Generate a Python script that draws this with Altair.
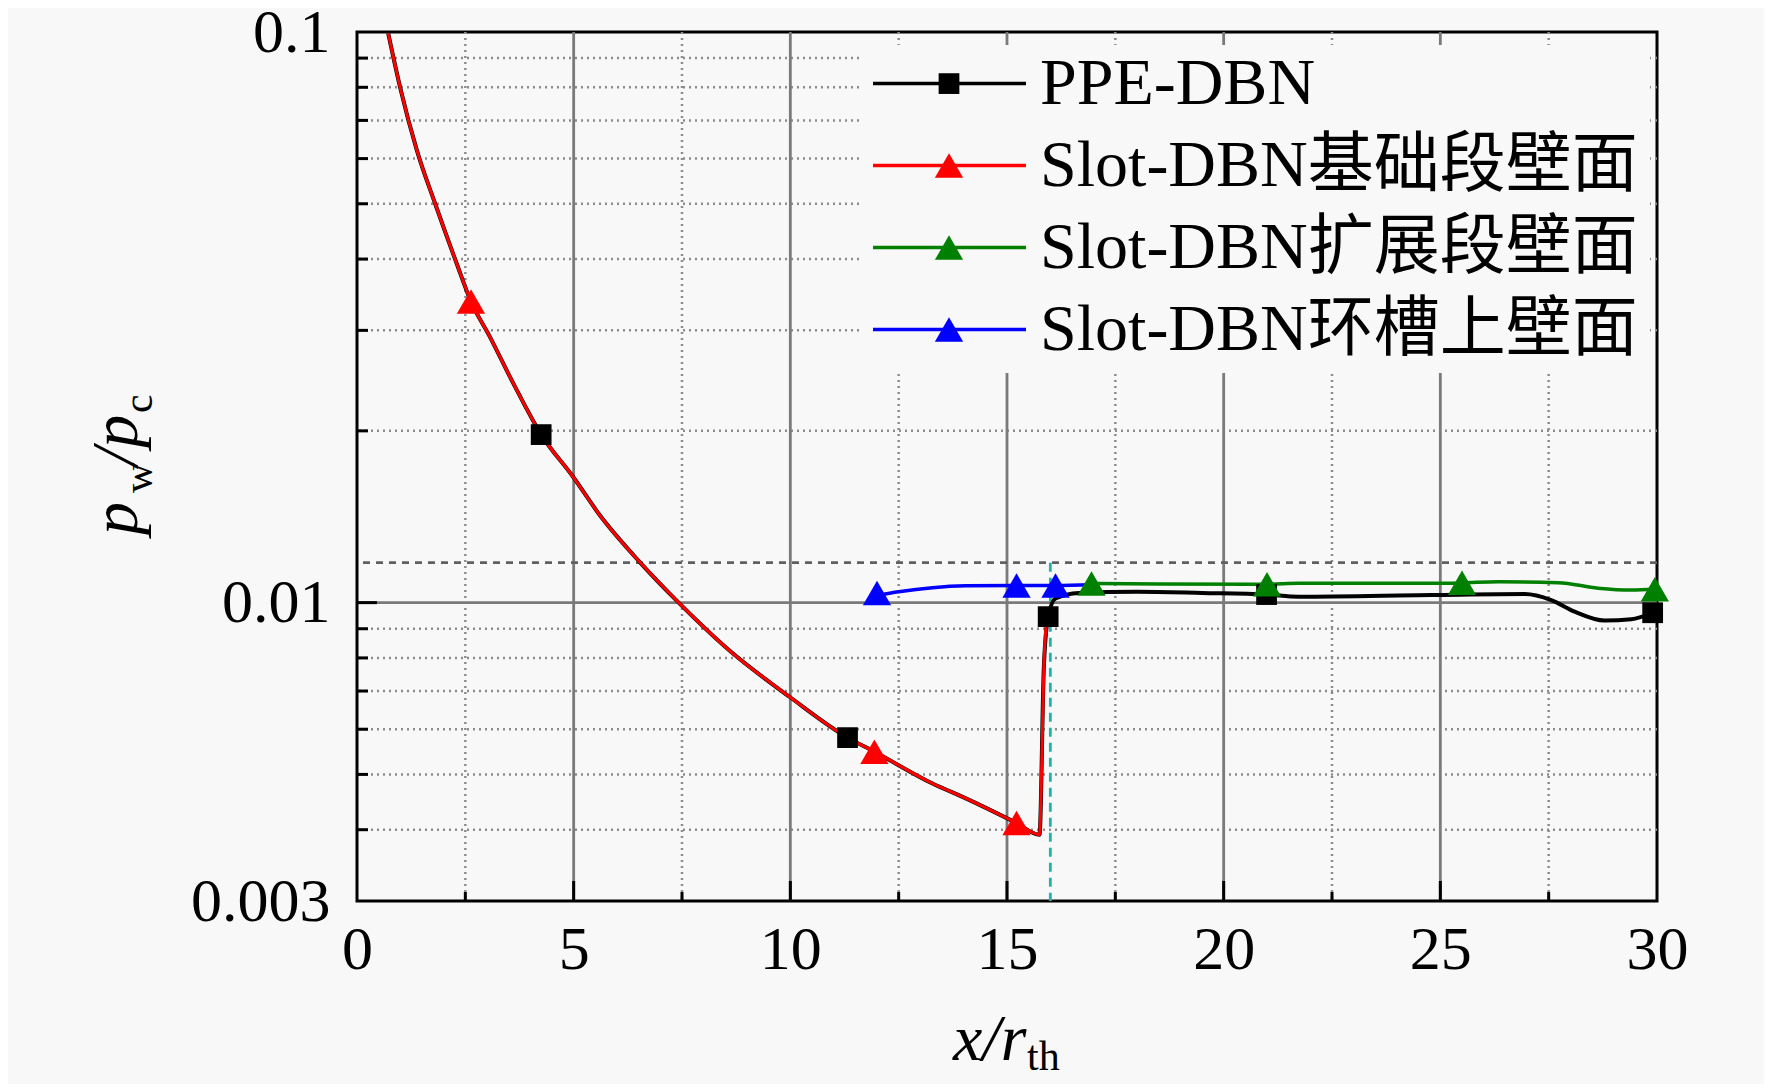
import altair as alt
import pandas as pd

SERIF = "Liberation Serif"
MIXED = "'Liberation Serif', 'Noto Sans CJK SC'"
BG = "#f8f8f8"
W, H = 1300, 869

# axis ticks / grid
x_ticks = [0, 5, 10, 15, 20, 25, 30]
y_ticks = [0.003, 0.01, 0.1]
x_major = [5, 10, 15, 20, 25]
x_minor = [2.5, 7.5, 12.5, 17.5, 22.5, 27.5]
y_major = [0.01]
y_minor = [0.004, 0.005, 0.006, 0.007, 0.008, 0.009,
           0.02, 0.03, 0.04, 0.05, 0.06, 0.07, 0.08, 0.09]
sep_y = 0.01175      # dashed horizontal line
inflect_x = 16.0     # dashed vertical line

# PPE-DBN
ppe_x = [0.72, 1.0, 1.38, 1.80, 2.30, 2.63, 3.07, 3.61, 4.25, 4.99, 5.60, 6.52, 7.44,
         8.67, 9.98, 11.32, 11.94, 13.28, 14.05, 15.22, 15.75, 15.85, 15.95, 16.12,
         16.66, 18.0, 19.5, 20.99, 21.73, 24.8, 26.95, 27.56, 28.10, 28.79, 29.41, 29.87]
ppe_y = [0.0995, 0.0797, 0.0621, 0.0501, 0.0393, 0.0337, 0.0292, 0.0242, 0.0197, 0.0166,
         0.01424, 0.01179, 0.00997, 0.00815, 0.00684, 0.0058, 0.00548, 0.00482, 0.00454,
         0.00411, 0.00392, 0.0077, 0.00945, 0.01017, 0.0104, 0.01045, 0.0104, 0.01033,
         0.01024, 0.01031, 0.01035, 0.0101, 0.00964, 0.0093, 0.00935, 0.00958]
ppe_mx = [4.25, 11.32, 15.95, 20.99, 29.9]
ppe_my = [0.0197, 0.0058, 0.00945, 0.01033, 0.0096]

# Slot-DBN base wall
base_x = [0.72, 1.0, 1.38, 1.80, 2.30, 2.63, 3.07, 3.61, 4.25, 4.99, 5.60, 6.52, 7.44,
          8.67, 9.98, 11.32, 11.94, 13.28, 14.05, 15.22, 15.75, 15.80, 15.85, 15.93]
base_y = [0.0995, 0.0797, 0.0621, 0.0501, 0.0393, 0.0337, 0.0292, 0.0242, 0.0197, 0.0166,
          0.01424, 0.01179, 0.00997, 0.00815, 0.00684, 0.0058, 0.00548, 0.00482, 0.00454,
          0.00411, 0.00392, 0.00516, 0.00772, 0.0095]
base_mx = [2.63, 11.94, 15.22]
base_my = [0.0337, 0.00548, 0.00411]

# Slot-DBN extension wall
ext_x = [16.95, 18.5, 21.0, 21.73, 24.8, 25.5, 26.34, 27.72, 28.64, 29.41, 29.95]
ext_y = [0.0108, 0.01078, 0.01077, 0.01081, 0.01081, 0.01083, 0.01088, 0.01084,
         0.0106, 0.01052, 0.01055]
ext_mx = [16.95, 21.0, 25.5, 29.95]
ext_my = [0.0108, 0.01077, 0.01083, 0.01055]

# Slot-DBN slot upper wall
slot_x = [12.0, 12.5, 13.28, 14.05, 15.22, 16.12, 16.95]
slot_y = [0.0103, 0.01045, 0.01062, 0.0107, 0.01072, 0.01072, 0.01075]
slot_mx = [12.0, 15.22, 16.12]
slot_my = [0.0104, 0.01072, 0.01072]

legend_names = ["PPE-DBN", "Slot-DBN基础段壁面", "Slot-DBN扩展段壁面", "Slot-DBN环槽上壁面"]
legend_colors = ["black", "#ff0000", "#008000", "#0000ff"]
legend_shapes = ["square", "triangle-up", "triangle-up", "triangle-up"]

xs = alt.Scale(domain=[0, 30], nice=False, zero=False)
ys = alt.Scale(type="log", domain=[0.003, 0.1], nice=False)

x_axis = alt.Axis(values=x_ticks, format="d", title=None, grid=False, ticks=False,
                  tickSize=0, domain=False, labelFont=SERIF, labelFontSize=62,
                  labelColor="black", labelPadding=18, labelFlush=False, labelOverlap=False)
y_axis = alt.Axis(values=y_ticks, format="~g", title=None, grid=False, ticks=False,
                  tickSize=0, domain=False, labelFont=SERIF, labelFontSize=62,
                  labelColor="black", labelPadding=27, labelFlush=False, labelOverlap=False)

SQ, TRI = 430, 800


def X(f="x"):
    return alt.X(f"{f}:Q", scale=xs, axis=x_axis)


def Y(f="y"):
    return alt.Y(f"{f}:Q", scale=ys, axis=y_axis)


def vrules(vals, **kw):
    return alt.Chart(pd.DataFrame({"x": vals})).mark_rule(**kw).encode(x=X())


def hrules(vals, **kw):
    return alt.Chart(pd.DataFrame({"y": vals})).mark_rule(**kw).encode(y=Y())


def series(xv, yv, color, width):
    return alt.Chart(pd.DataFrame({"x": xv, "y": yv})).mark_line(
        color=color, strokeWidth=width, interpolate="monotone", clip=True
    ).encode(x=X(), y=Y())


def markers(xv, yv, color, shape, size):
    return alt.Chart(pd.DataFrame({"x": xv, "y": yv})).mark_point(
        filled=True, color=color, shape=shape, size=size, opacity=1
    ).encode(x=X(), y=Y())


def label(s, x, y, size, italic=False, angle=0):
    return alt.Chart(pd.DataFrame({"a": [0]})).mark_text(
        text=s, font=SERIF, fontSize=size, fontStyle="italic" if italic else "normal",
        align="left", baseline="alphabetic", angle=angle, color="black"
    ).encode(x=alt.value(x), y=alt.value(y))


grid_minor_x = vrules(x_minor, color="#8c8c8c", strokeWidth=2.5, strokeDash=[2, 4])
grid_minor_y = hrules(y_minor, color="#8c8c8c", strokeWidth=2.5, strokeDash=[2, 4])
grid_major_x = vrules(x_major, color="#7a7a7a", strokeWidth=2.8)
grid_major_y = hrules(y_major, color="#7a7a7a", strokeWidth=2.8)

sep_line = hrules([sep_y], color="#606060", strokeWidth=2.8, strokeDash=[7, 6])
inflect_line = alt.Chart(pd.DataFrame({"x": [inflect_x], "y": [sep_y], "y2": [0.003]})).mark_rule(
    color="#1fb5a5", strokeWidth=2.8, strokeDash=[9, 6]
).encode(x=X(), y=Y(), y2="y2:Q")

# inward tick marks
tick_x_major = alt.Chart(pd.DataFrame({"x": x_major})).mark_rule(color="black", strokeWidth=3).encode(
    x=X(), y=alt.value(H), y2=alt.value(H - 20))
tick_x_minor = alt.Chart(pd.DataFrame({"x": x_minor})).mark_rule(color="black", strokeWidth=3).encode(
    x=X(), y=alt.value(H), y2=alt.value(H - 9))
tick_y_major = alt.Chart(pd.DataFrame({"y": y_major})).mark_rule(color="black", strokeWidth=3).encode(
    y=Y(), x=alt.value(0), x2=alt.value(20))
tick_y_minor = alt.Chart(pd.DataFrame({"y": y_minor})).mark_rule(color="black", strokeWidth=3).encode(
    y=Y(), x=alt.value(0), x2=alt.value(11))

# legend
legend_bg = alt.Chart(pd.DataFrame({"a": [0]})).mark_rect(fill=BG, stroke=None).encode(
    x=alt.value(505), x2=alt.value(1293), y=alt.value(13), y2=alt.value(341))
leg = alt.Chart(pd.DataFrame({
    "name": legend_names, "col": legend_colors, "shp": legend_shapes,
    "i": list(range(len(legend_names)))
})).transform_calculate(
    ly="51.6 + 82 * datum.i",
    sz=f"datum.shp == 'square' ? {SQ} : {TRI}",
)
ly = alt.Y("ly:Q", scale=None, axis=None)
leg_lines = leg.mark_rule(strokeWidth=3.5).encode(
    x=alt.value(516), x2=alt.value(669), y=ly, color=alt.Color("col:N", scale=None))
leg_pts = leg.mark_point(filled=True, opacity=1).encode(
    x=alt.value(592), y=ly, color=alt.Color("col:N", scale=None),
    shape=alt.Shape("shp:N", scale=None), size=alt.Size("sz:Q", scale=None))
leg_text = leg.mark_text(align="left", baseline="middle", font=MIXED, fontSize=66,
                         color="black").encode(x=alt.value(683), y=ly, text="name:N")

layers = [
    grid_minor_x, grid_minor_y, grid_major_x, grid_major_y, sep_line, inflect_line,
    legend_bg, tick_x_major, tick_x_minor, tick_y_major, tick_y_minor,
    series(ppe_x, ppe_y, "black", 4),
    series(base_x, base_y, "#ff0000", 3),
    series(ext_x, ext_y, "#008000", 3.5),
    series(slot_x, slot_y, "#0000ff", 3.5),
    markers(ppe_mx, ppe_my, "black", "square", SQ),
    markers(base_mx, base_my, "#ff0000", "triangle-up", TRI),
    markers(ext_mx, ext_my, "#008000", "triangle-up", TRI),
    markers(slot_mx, slot_my, "#0000ff", "triangle-up", TRI),
    leg_lines, leg_pts, leg_text,
    # x title: x/r_th
    label("x/r", 596, 1028, 66, italic=True),
    label("th", 670, 1038, 42),
    # y title: p_w/p_c
    label("p", -220, 503, 66, italic=True, angle=270),
    label("w", -205, 461, 42, angle=270),
    label("/p", -220, 434, 66, italic=True, angle=270),
    label("c", -205, 381, 42, angle=270),
]

chart = alt.layer(*layers).properties(
    width=W, height=H,
    padding={"left": 349, "top": 24, "right": 107, "bottom": 183},
    autosize=alt.AutoSizeParams(type="none"),
).configure(background=BG).configure_view(stroke="black", strokeWidth=3)

chart.save("out.html", embed_options={"renderer": "svg", "actions": False})
